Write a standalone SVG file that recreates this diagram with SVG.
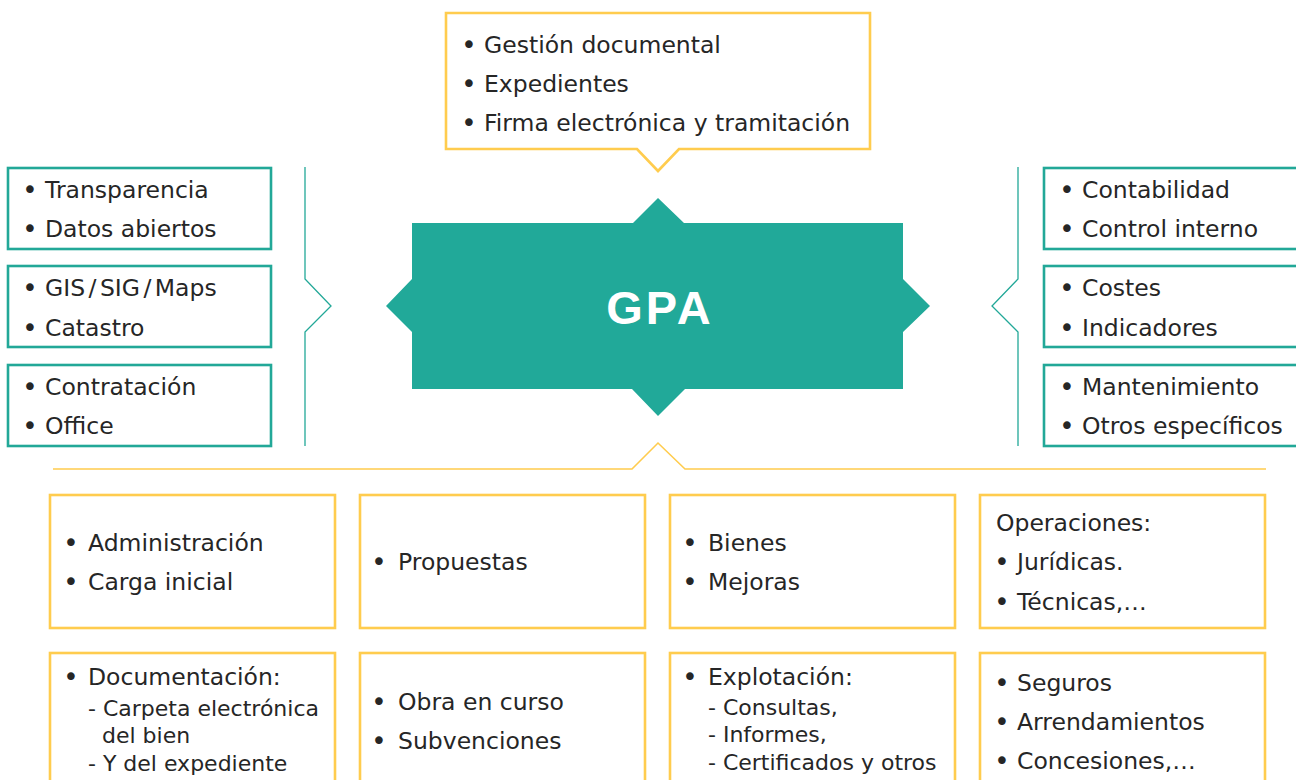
<svg xmlns="http://www.w3.org/2000/svg" width="1296" height="780" viewBox="0 0 1296 780">
<style>
.t{font-family:"DejaVu Sans","Liberation Sans",sans-serif;font-size:23.5px;fill:#262626}
.s{font-family:"DejaVu Sans","Liberation Sans",sans-serif;font-size:22px;fill:#262626}
.b{font-family:"DejaVu Sans","Liberation Sans",sans-serif;font-size:26px;fill:#262626;text-anchor:middle}
.yb{fill:#fff;stroke:#FFCC4E;stroke-width:2.6}
.tb{fill:#fff;stroke:#22A898;stroke-width:2.6}
.br{fill:none;stroke:#22A898;stroke-width:1.3}
.yl{fill:none;stroke:#FFCC4E;stroke-width:1.6}
</style>
<rect width="1296" height="780" fill="#fff"/>
<g id="connectors">
<path class="br" d="M305,167 V279 L331,306 L305,332 V446"/>
<path class="br" d="M1018,167 V279 L992,306 L1018,332 V446"/>
<path class="yl" d="M53,469 H632 L658,443 L685,469 H1266"/>
</g>
<g id="gpa">
<path d="M412,223 H633 L658,198 L684,223 H903 V279 L930,306 L903,332 V389 H685 L658,416 L632,389 H412 V332 L386,306 L412,279 Z" fill="#21A999"/>
<text x="660" y="324" text-anchor="middle" font-family="Liberation Sans,Arial,sans-serif" font-weight="bold" font-size="47" letter-spacing="3" fill="#fff">GPA</text>
</g>
<g id="top-callout">
<path class="yb" d="M446,13 H870 V149 H679 L658,171 L637,149 H446 Z"/>
<text class="b" x="469" y="54">•</text><text class="t" x="484" y="53">Gestión documental</text>
<text class="b" x="469" y="93">•</text><text class="t" x="484" y="92">Expedientes</text>
<text class="b" x="469" y="132">•</text><text class="t" x="484" y="131">Firma electrónica y tramitación</text>
</g>
<g id="left-1">
<rect class="tb" x="8" y="168" width="263" height="81"/>
<text class="b" x="30" y="199">•</text><text class="t" x="45" y="198">Transparencia</text>
<text class="b" x="30" y="238">•</text><text class="t" x="45" y="237">Datos abiertos</text>
</g>
<g id="left-2">
<rect class="tb" x="8" y="266" width="263" height="81"/>
<text class="b" x="30" y="297">•</text><text class="t" x="45" y="296" word-spacing="-4">GIS / SIG / Maps</text>
<text class="b" x="30" y="337">•</text><text class="t" x="45" y="336">Catastro</text>
</g>
<g id="left-3">
<rect class="tb" x="8" y="365" width="263" height="81"/>
<text class="b" x="30" y="396">•</text><text class="t" x="45" y="395">Contratación</text>
<text class="b" x="30" y="435">•</text><text class="t" x="45" y="434">Office</text>
</g>
<g id="right-1">
<rect class="tb" x="1044" y="168" width="270" height="81"/>
<text class="b" x="1067" y="199">•</text><text class="t" x="1082" y="198">Contabilidad</text>
<text class="b" x="1067" y="238">•</text><text class="t" x="1082" y="237">Control interno</text>
</g>
<g id="right-2">
<rect class="tb" x="1044" y="266" width="270" height="81"/>
<text class="b" x="1067" y="297">•</text><text class="t" x="1082" y="296">Costes</text>
<text class="b" x="1067" y="337">•</text><text class="t" x="1082" y="336">Indicadores</text>
</g>
<g id="right-3">
<rect class="tb" x="1044" y="365" width="270" height="81"/>
<text class="b" x="1067" y="396">•</text><text class="t" x="1082" y="395">Mantenimiento</text>
<text class="b" x="1067" y="435">•</text><text class="t" x="1082" y="434">Otros específicos</text>
</g>
<g id="b1">
<rect class="yb" x="50" y="495" width="285" height="133"/>
<text class="b" x="71" y="552">•</text><text class="t" x="88" y="551">Administración</text>
<text class="b" x="71" y="591">•</text><text class="t" x="88" y="590">Carga inicial</text>
</g>
<g id="b2">
<rect class="yb" x="360" y="495" width="285" height="133"/>
<text class="b" x="379" y="571">•</text><text class="t" x="398" y="570">Propuestas</text>
</g>
<g id="b3">
<rect class="yb" x="670" y="495" width="285" height="133"/>
<text class="b" x="690" y="552">•</text><text class="t" x="708" y="551">Bienes</text>
<text class="b" x="690" y="591">•</text><text class="t" x="708" y="590">Mejoras</text>
</g>
<g id="b4">
<rect class="yb" x="980" y="495" width="285" height="133"/>
<text class="t" x="996" y="531">Operaciones:</text>
<text class="b" x="1002" y="571">•</text><text class="t" x="1017" y="570">Jurídicas.</text>
<text class="b" x="1002" y="611">•</text><text class="t" x="1017" y="610">Técnicas,…</text>
</g>
<g id="b5">
<rect class="yb" x="50" y="653" width="285" height="150"/>
<text class="b" x="71" y="686">•</text><text class="t" x="88" y="685">Documentación:</text>
<text class="s" x="88" y="716">- Carpeta electrónica</text>
<text class="s" x="102" y="743">del bien</text>
<text class="s" x="88" y="771">- Y del expediente</text>
</g>
<g id="b6">
<rect class="yb" x="360" y="653" width="285" height="150"/>
<text class="b" x="379" y="711">•</text><text class="t" x="398" y="710">Obra en curso</text>
<text class="b" x="379" y="750">•</text><text class="t" x="398" y="749">Subvenciones</text>
</g>
<g id="b7">
<rect class="yb" x="670" y="653" width="285" height="150"/>
<text class="b" x="690" y="686">•</text><text class="t" x="708" y="685">Explotación:</text>
<text class="s" x="708" y="715">- Consultas,</text>
<text class="s" x="708" y="742">- Informes,</text>
<text class="s" x="708" y="770">- Certificados y otros</text>
</g>
<g id="b8">
<rect class="yb" x="980" y="653" width="285" height="150"/>
<text class="b" x="1002" y="692">•</text><text class="t" x="1017" y="691">Seguros</text>
<text class="b" x="1002" y="731">•</text><text class="t" x="1017" y="730">Arrendamientos</text>
<text class="b" x="1002" y="770">•</text><text class="t" x="1017" y="769">Concesiones,…</text>
</g>
</svg>
